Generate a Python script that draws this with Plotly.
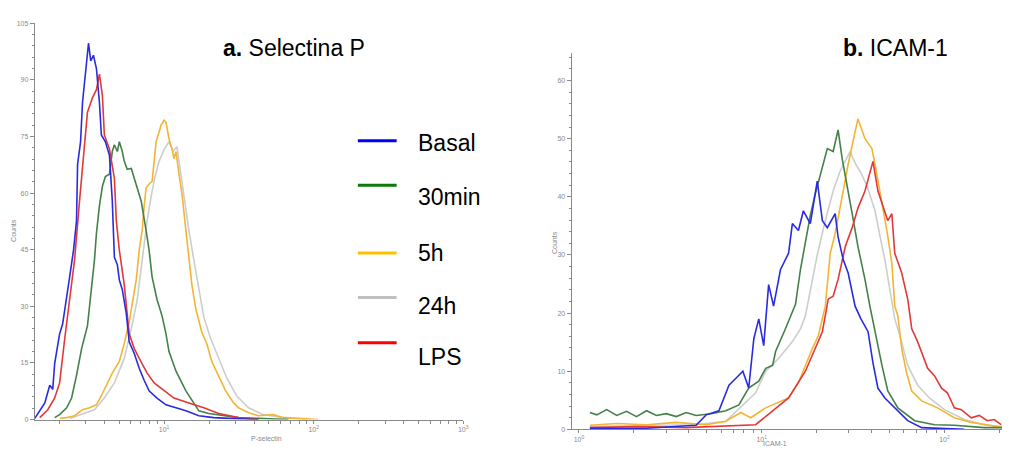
import numpy as np
import plotly.graph_objects as go

# ---------------- Panel a: P-selectin (log10 intensity, counts) ----------------
a_basal_log = [0.136, 0.156, 0.203, 0.236, 0.256, 0.269, 0.302, 0.322, 0.349, 0.369, 0.395, 0.415,
               0.422, 0.442, 0.455, 0.475, 0.495, 0.51, 0.528, 0.548, 0.568, 0.581, 0.608, 0.635,
               0.654, 0.668, 0.688, 0.701, 0.721, 0.748, 0.767, 0.801, 0.834, 0.867, 0.90, 0.953,
               1.013, 1.08, 1.146, 1.233, 1.332, 1.432, 1.631]
a_basal_cnt = [0.3, 1.6, 4.4, 9.1, 8.0, 14.9, 22.7, 25.3, 31.8, 37.8, 44.9, 52.7,
               67.6, 73.6, 84.0, 91.8, 99.7, 95.0, 96.5, 93.0, 84.0, 75.4, 73.6, 70.0,
               58.0, 43.0, 41.0, 37.0, 34.4, 28.0, 20.6, 17.5, 13.6, 10.4, 7.6, 5.7,
               3.9, 3.1, 2.3, 1.0, 0.5, 0.3, 0.0]

a_30min_log = [0.269, 0.302, 0.349, 0.382, 0.415, 0.449, 0.488, 0.515, 0.535, 0.548, 0.568, 0.588,
               0.608, 0.635, 0.654, 0.668, 0.688, 0.701, 0.721, 0.734, 0.754, 0.781, 0.801, 0.821,
               0.847, 0.880, 0.900, 0.920, 0.953, 0.987, 1.013, 1.033, 1.080, 1.146, 1.199, 1.233,
               1.299, 1.399, 1.498, 1.631, 1.831]
a_30min_cnt = [0.5, 1.3, 3.1, 5.7, 11.7, 18.8, 24.8, 34.4, 42.3, 49.3, 56.6, 61.8,
               64.4, 65.0, 71.0, 72.8, 71.0, 73.6, 71.0, 68.4, 66.3, 66.5, 63.7, 61.3,
               57.9, 50.1, 44.9, 37.8, 31.8, 27.4, 22.7, 18.0, 12.8, 7.6, 4.4, 2.3,
               1.6, 1.0, 0.5, 0.3, 0.0]

a_5h_log = [0.302, 0.349, 0.402, 0.455, 0.502, 0.548, 0.581, 0.615, 0.654, 0.701, 0.734, 0.767,
            0.794, 0.814, 0.834, 0.854, 0.867, 0.880, 0.900, 0.920, 0.934, 0.947, 0.967, 0.980,
            1.0, 1.013, 1.033, 1.050, 1.053, 1.066, 1.080, 1.100, 1.120, 1.146, 1.166, 1.186,
            1.213, 1.233, 1.252, 1.286, 1.319, 1.365, 1.412, 1.465, 1.498, 1.565, 1.631, 1.731,
            1.797, 1.897, 2.030]
a_5h_cnt = [0.3, 0.5, 1.0, 2.6, 3.1, 3.9, 6.3, 9.1, 12.3, 15.4, 20.1, 25.8,
            31.8, 37.0, 44.9, 50.1, 56.6, 61.3, 62.4, 63.1, 68.4, 73.6, 76.2, 78.0,
            79.3, 78.8, 74.4, 72.3, 71.7, 69.1, 71.0, 65.0, 59.7, 50.1, 42.3, 35.7,
            29.2, 26.1, 23.2, 20.1, 15.4, 11.5, 7.6, 4.4, 3.1, 1.8, 1.0, 1.3,
            0.5, 0.3, 0.0]

a_24h_log = [0.369, 0.468, 0.535, 0.601, 0.668, 0.734, 0.781, 0.821, 0.854, 0.887, 0.914, 0.940,
             0.967, 1.0, 1.033, 1.060, 1.086, 1.113, 1.140, 1.166, 1.199, 1.233, 1.266, 1.312,
             1.365, 1.419, 1.485, 1.565, 1.664, 1.797, 1.963]
a_24h_cnt = [0.3, 1.6, 2.6, 5.7, 9.7, 16.2, 24.0, 31.8, 42.3, 52.7, 59.2, 64.4,
             68.4, 71.5, 73.6, 71.0, 72.3, 64.4, 57.9, 50.1, 42.3, 34.4, 27.1, 21.4,
             16.2, 11.0, 6.3, 3.1, 1.3, 0.5, 0.0]

a_lps_log = [0.169, 0.223, 0.269, 0.302, 0.336, 0.369, 0.402, 0.435, 0.455, 0.488, 0.522, 0.548,
             0.568, 0.588, 0.601, 0.635, 0.668, 0.681, 0.701, 0.734, 0.767, 0.801, 0.834, 0.887,
             0.934, 1.0, 1.066, 1.166, 1.266, 1.365, 1.498, 1.631]
a_lps_cnt = [0.5, 2.6, 5.7, 9.7, 21.4, 31.8, 42.3, 57.9, 67.6, 81.4, 85.3, 87.4,
             91.5, 85.8, 75.4, 71.7, 63.9, 52.7, 44.9, 35.7, 22.7, 18.8, 16.2, 12.3,
             9.7, 7.6, 5.7, 4.4, 3.1, 1.6, 0.5, 0.0]

# ---------------- Panel b: ICAM-1 (log10 intensity, counts) ----------------
b_basal_log = [0.060, 0.370, 0.641, 0.696, 0.766, 0.821, 0.859, 0.897, 0.929, 0.957, 0.984, 1.011,
               1.038, 1.065, 1.103, 1.147, 1.168, 1.201, 1.228, 1.266, 1.304, 1.332, 1.359, 1.402,
               1.418, 1.446, 1.473, 1.511, 1.543, 1.582, 1.609, 1.636, 1.674, 1.728, 1.799, 1.875,
               1.973, 2.109]
b_basal_cnt = [0.2, 0.2, 0.7, 2.5, 3.2, 7.6, 8.8, 10.0, 7.1, 15.6, 19.0, 14.4,
               24.9, 21.2, 27.5, 30.3, 35.4, 34.2, 37.6, 35.4, 42.7, 35.9, 34.7, 37.1,
               33.1, 29.2, 26.9, 21.2, 19.0, 16.8, 11.4, 7.1, 5.4, 3.7, 1.5, 0.3,
               0.2, 0.0]

b_30min_log = [0.060, 0.098, 0.152, 0.207, 0.261, 0.315, 0.370, 0.424, 0.478, 0.533, 0.587, 0.641,
               0.723, 0.804, 0.875, 0.929, 0.984, 1.022, 1.060, 1.076, 1.130, 1.185, 1.212, 1.239,
               1.266, 1.293, 1.332, 1.359, 1.391, 1.418, 1.440, 1.467, 1.495, 1.527, 1.565, 1.592,
               1.620, 1.658, 1.690, 1.745, 1.837, 1.946, 2.054, 2.217, 2.315]
b_30min_cnt = [2.9, 2.5, 3.4, 2.4, 3.1, 2.2, 3.2, 2.4, 2.7, 2.2, 2.9, 2.4,
               2.7, 3.2, 4.2, 7.1, 8.3, 10.5, 11.0, 13.4, 17.3, 21.5, 27.5, 32.5,
               36.8, 40.5, 44.9, 48.3, 47.8, 51.5, 46.6, 42.2, 37.1, 31.4, 25.8, 21.2,
               16.8, 11.0, 6.6, 3.7, 1.5, 0.8, 0.7, 0.3, 0.3]

b_5h_log = [0.060, 0.207, 0.370, 0.533, 0.696, 0.804, 0.886, 0.940, 1.022, 1.092, 1.147, 1.201,
            1.239, 1.277, 1.310, 1.348, 1.375, 1.402, 1.446, 1.473, 1.511, 1.527, 1.565, 1.603,
            1.620, 1.658, 1.685, 1.712, 1.728, 1.745, 1.766, 1.793, 1.821, 1.875, 1.962, 2.054,
            2.147, 2.245, 2.315]
b_5h_cnt = [0.7, 1.0, 0.8, 1.2, 0.8, 1.4, 2.9, 2.0, 3.7, 4.6, 5.4, 8.0,
            11.0, 13.9, 16.1, 21.2, 30.3, 33.7, 41.0, 45.6, 51.2, 53.4, 50.0, 48.3,
            45.6, 39.3, 34.2, 28.6, 21.2, 19.5, 13.9, 9.7, 6.6, 4.9, 3.7, 2.0,
            1.2, 0.7, 0.3]

b_24h_log = [0.060, 0.370, 0.641, 0.804, 0.967, 1.022, 1.092, 1.168, 1.212, 1.239, 1.266, 1.304,
             1.348, 1.391, 1.429, 1.457, 1.484, 1.511, 1.538, 1.576, 1.620, 1.652, 1.674, 1.701,
             1.728, 1.761, 1.799, 1.853, 1.918, 2.0, 2.109, 2.217, 2.315]
b_24h_cnt = [0.5, 0.7, 0.8, 1.4, 6.3, 10.0, 12.2, 15.1, 17.3, 19.5, 24.1, 30.0,
             35.9, 41.0, 44.4, 46.1, 47.8, 45.8, 44.4, 41.9, 37.6, 32.5, 29.2, 24.1,
             19.0, 15.6, 11.0, 7.6, 5.4, 3.4, 1.7, 0.8, 0.5]

b_lps_log = [0.060, 0.315, 0.587, 0.859, 0.967, 1.060, 1.147, 1.239, 1.293, 1.332, 1.364, 1.391,
             1.418, 1.457, 1.495, 1.527, 1.565, 1.592, 1.609, 1.636, 1.674, 1.690, 1.712, 1.728,
             1.766, 1.799, 1.821, 1.853, 1.908, 1.946, 1.984, 2.016, 2.054, 2.092, 2.147, 2.190,
             2.234, 2.272, 2.31]
b_lps_cnt = [0.3, 0.5, 0.3, 0.7, 0.8, 3.2, 5.4, 10.0, 13.9, 16.8, 22.4, 22.9,
             25.8, 31.4, 34.7, 38.1, 41.0, 44.4, 46.1, 41.0, 37.1, 35.9, 37.1, 30.3,
             26.9, 22.4, 17.3, 15.1, 10.5, 9.2, 7.1, 6.3, 3.7, 3.4, 2.0, 2.4,
             1.5, 1.7, 0.8]

# ---------------- Series labels and colours ----------------
series_names = ["Basal", "30min", "5h", "24h", "LPS"]
curve_colors = {"Basal": "#2a2ae0", "30min": "#44804a", "5h": "#f2b534",
                "24h": "#cdcdcd", "LPS": "#e23838"}
legend_colors = {"Basal": "#0000ff", "30min": "#0a7a0a", "5h": "#ffc000",
                 "24h": "#c0c0c0", "LPS": "#ff0000"}

panel_a = {"Basal": (a_basal_log, a_basal_cnt), "30min": (a_30min_log, a_30min_cnt),
           "5h": (a_5h_log, a_5h_cnt), "24h": (a_24h_log, a_24h_cnt), "LPS": (a_lps_log, a_lps_cnt)}
panel_b = {"Basal": (b_basal_log, b_basal_cnt), "30min": (b_30min_log, b_30min_cnt),
           "5h": (b_5h_log, b_5h_cnt), "24h": (b_24h_log, b_24h_cnt), "LPS": (b_lps_log, b_lps_cnt)}

draw_order = ["24h", "5h", "30min", "LPS", "Basal"]

W, H = 1015, 457
fig = go.Figure()

for name in draw_order:
    lg, ct = panel_a[name]
    fig.add_trace(go.Scatter(x=np.power(10.0, lg), y=ct, mode="lines", xaxis="x", yaxis="y",
                             line=dict(color=curve_colors[name], width=1.6), showlegend=False))
for name in draw_order:
    lg, ct = panel_b[name]
    fig.add_trace(go.Scatter(x=np.power(10.0, lg), y=ct, mode="lines", xaxis="x2", yaxis="y2",
                             line=dict(color=curve_colors[name], width=1.6), showlegend=False))

axis_gray = "#8a8a8a"
tick_font = dict(family="Liberation Sans, Arial", size=7, color="#8a8a8a")


def log_ticks(decades):
    """Tick positions at every digit of each decade; only decades get a label."""
    vals, text = [], []
    for e in decades:
        for m in range(1, 10):
            vals.append(m * 10.0 ** e)
            text.append(f"10<sup>{e}</sup>" if m == 1 else "")
    return vals, text


def px_x(p):
    return p / W


def px_y(p):
    return 1 - p / H


a_tickvals, a_ticktext = log_ticks([0, 1, 2, 3])
b_tickvals, b_ticktext = log_ticks([0, 1, 2])

common_x = dict(type="log", showgrid=False, zeroline=False, showline=True, linecolor=axis_gray,
                linewidth=1, ticks="outside", ticklen=3, tickcolor=axis_gray, tickfont=tick_font,
                tickmode="array")
common_y = dict(showgrid=False, zeroline=False, showline=True, linecolor=axis_gray, linewidth=1,
                ticks="outside", ticklen=4, tickcolor=axis_gray, tickfont=tick_font)

fig.update_layout(
    width=W, height=H, margin=dict(l=0, r=0, t=0, b=0),
    paper_bgcolor="white", plot_bgcolor="white",
    xaxis=dict(common_x, domain=[px_x(35), px_x(466)], range=[0.136, 3.0],
               tickvals=a_tickvals, ticktext=a_ticktext, anchor="y"),
    yaxis=dict(common_y, domain=[px_y(422), px_y(19.5)], range=[0, 105], dtick=15,
               minor=dict(ticks="outside", ticklen=2, tickcolor=axis_gray, dtick=3, showgrid=False),
               anchor="x"),
    xaxis2=dict(common_x, domain=[px_x(575), px_x(1008)], range=[-0.04, 2.315],
                tickvals=b_tickvals, ticktext=b_ticktext, anchor="y2"),
    yaxis2=dict(common_y, domain=[px_y(432), px_y(50)], range=[0, 64.7], dtick=10,
                minor=dict(ticks="outside", ticklen=2, tickcolor=axis_gray, dtick=2, showgrid=False),
                anchor="x2"),
)

label_font = dict(family="Liberation Sans, Arial", size=23, color="black")
small_font = dict(family="Liberation Sans, Arial", size=7, color="#8a8a8a")

annotations = [
    dict(x=px_x(222), y=px_y(45), text="<b>a.</b> Selectina P", xanchor="left", yanchor="middle",
         showarrow=False, font=label_font),
    dict(x=px_x(846), y=px_y(45), text="<b>b.</b> ICAM-1", xanchor="left", yanchor="middle",
         showarrow=False, font=label_font),
    dict(x=px_x(8), y=px_y(230), text="Counts", textangle=-90, showarrow=False, font=small_font),
    dict(x=px_x(250), y=px_y(447), text="P-selectin", showarrow=False, font=small_font),
    dict(x=px_x(558), y=px_y(242), text="Counts", textangle=-90, showarrow=False, font=small_font),
    dict(x=px_x(794), y=px_y(452), text="ICAM-1", showarrow=False, font=small_font),
]

# Legend drawn as short coloured bars with labels
legend_line_y = [139, 184, 253, 298, 344]
legend_text_y = [141, 196, 253, 307, 358]
shapes = []
for name, ly, ty in zip(series_names, legend_line_y, legend_text_y):
    shapes.append(dict(type="line", xref="paper", yref="paper", x0=px_x(360), x1=px_x(399),
                       y0=px_y(ly), y1=px_y(ly), line=dict(color=legend_colors[name], width=3)))
    annotations.append(dict(x=px_x(418), y=px_y(ty), text=name, xanchor="left", yanchor="middle",
                            showarrow=False, font=label_font))

for a in annotations:
    a.setdefault("xref", "paper")
    a.setdefault("yref", "paper")

fig.update_layout(annotations=annotations, shapes=shapes)
fig.write_html("out.html")
